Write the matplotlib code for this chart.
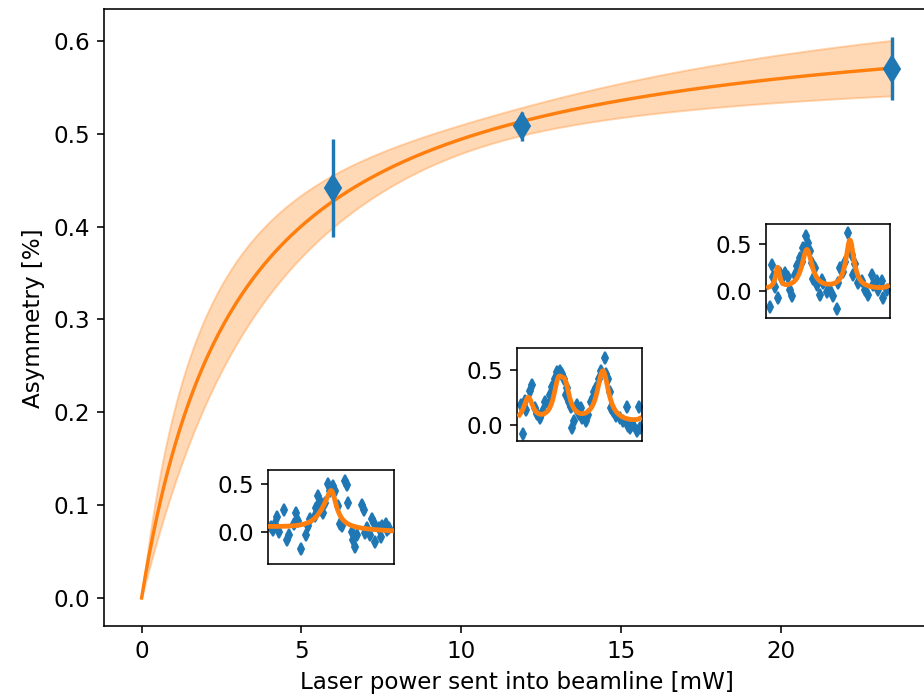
import matplotlib
matplotlib.use('Agg')
import matplotlib.pyplot as plt
import numpy as np

plt.rcParams['font.size'] = 11.5
plt.rcParams['lines.linewidth'] = 1.7

# ─── main measurement: asymmetry vs laser power ───
power = [6.0, 11.9, 23.5]            # mW
asym = [0.442, 0.508, 0.570]         # %
asym_err = [0.053, 0.016, 0.034]

# saturation fit  A = A_max * P / (P + P_sat), with correlated uncertainties
A_max, P_sat = 0.645, 3.05
sig_A, sig_P, rho = 0.065, 1.406, 0.957
fit_range = (0.0, 23.5)

# ─── inset spectra (detuning in arbitrary units, asymmetry in %) ───
ins1_x = [0.021, 0.040, 0.056, 0.075, 0.088, 0.129, 0.155, 0.169, 0.209, 0.223,
          0.236, 0.263, 0.303, 0.316, 0.330, 0.370, 0.383, 0.397, 0.410, 0.424,
          0.437, 0.450, 0.477, 0.491, 0.517, 0.531, 0.558, 0.571, 0.584, 0.611,
          0.625, 0.638, 0.665, 0.678, 0.692, 0.705, 0.745, 0.759, 0.772, 0.786,
          0.812, 0.826, 0.839, 0.853, 0.879, 0.893, 0.906, 0.933, 0.946, 0.960]
ins1_y = [0.05, 0.02, 0.08, 0.15, 0.00, 0.23, -0.08, -0.03, 0.08, 0.20,
          0.11, -0.18, -0.03, 0.06, 0.13, 0.16, 0.25, 0.37, 0.32, 0.23,
          0.20, 0.30, 0.50, 0.42, 0.47, 0.42, 0.27, 0.08, 0.06, 0.53,
          0.48, 0.30, 0.00, -0.08, -0.15, -0.03, 0.28, 0.23, -0.01, 0.04,
          -0.03, 0.13, 0.09, -0.10, 0.04, -0.05, 0.06, 0.08, 0.02, 0.04]

ins2_x = [0.035, 0.049, 0.062, 0.076, 0.103, 0.117, 0.144, 0.158, 0.185, 0.212,
          0.226, 0.253, 0.266, 0.280, 0.307, 0.321, 0.348, 0.361, 0.375, 0.389,
          0.402, 0.416, 0.429, 0.443, 0.457, 0.470, 0.484, 0.497, 0.511, 0.524,
          0.552, 0.565, 0.592, 0.606, 0.620, 0.633, 0.660, 0.674, 0.701, 0.709,
          0.728, 0.742, 0.755, 0.769, 0.796, 0.823, 0.851, 0.878, 0.891, 0.905,
          0.932, 0.959, 0.973, 0.981]
ins2_y = [0.18, -0.09, 0.22, 0.13, 0.31, 0.36, 0.15, 0.10, 0.06, 0.12,
          0.21, 0.18, 0.27, 0.34, 0.42, 0.48, 0.49, 0.46, 0.42, 0.27,
          0.33, 0.21, 0.16, -0.03, 0.03, 0.15, 0.18, 0.10, 0.15, 0.06,
          0.03, 0.09, 0.21, 0.24, 0.30, 0.33, 0.42, 0.49, 0.61, 0.46,
          0.42, 0.30, 0.15, 0.12, 0.075, 0.06, 0.03, 0.16, -0.015, -0.03,
          0.00, -0.06, 0.16, -0.03]

ins3_x = [0.032, 0.046, 0.059, 0.073, 0.099, 0.113, 0.126, 0.153, 0.180, 0.194,
          0.207, 0.234, 0.247, 0.274, 0.288, 0.301, 0.323, 0.341, 0.355, 0.368,
          0.382, 0.395, 0.409, 0.435, 0.449, 0.462, 0.489, 0.516, 0.543, 0.570,
          0.583, 0.597, 0.624, 0.637, 0.664, 0.677, 0.691, 0.704, 0.718, 0.745,
          0.772, 0.798, 0.825, 0.852, 0.866, 0.892, 0.906, 0.933, 0.946, 0.973]
ins3_y = [-0.17, 0.275, 0.15, 0.04, -0.08, 0.19, 0.13, 0.19, 0.15, 0.01,
          -0.06, 0.17, 0.26, 0.35, 0.31, 0.45, 0.58, 0.51, 0.42, 0.29,
          0.13, 0.24, 0.06, -0.05, 0.11, 0.08, -0.01, 0.01, -0.06, -0.19,
          0.08, 0.24, 0.20, 0.31, 0.61, 0.49, 0.38, 0.17, 0.28, 0.08,
          0.10, 0.01, -0.05, 0.17, 0.06, 0.10, 0.01, 0.10, -0.08, 0.01]
ins_err = 0.035

# line fits of the spectra: baseline (offset, slope) + Lorentzians (centre, amplitude, hwhm)
ins1_base = (0.05, -0.045)
ins1_peaks = [(0.505, 0.27, 0.045), (0.46, 0.16, 0.09)]
ins2_base = (0.01, 0.0)
ins2_peaks = [(0.09, 0.22, 0.045), (0.33, 0.30, 0.045), (0.385, 0.26, 0.045),
              (0.6875, 0.47, 0.055), (1.03, 0.10, 0.03)]
ins3_base = (0.01, 0.0)
ins3_peaks = [(0.094, 0.22, 0.02), (0.33, 0.42, 0.05), (0.677, 0.52, 0.04),
              (1.03, 0.10, 0.03)]

BLUE = '#1f77b4'
ORANGE = '#ff7f0e'


def saturation(p, a, ps):
    return a * p / (p + ps)


def saturation_sigma(p):
    g1 = p / (p + P_sat)
    g2 = -A_max * p / (p + P_sat) ** 2
    var = (g1 * sig_A) ** 2 + (g2 * sig_P) ** 2 + 2 * g1 * g2 * rho * sig_A * sig_P
    return np.sqrt(np.clip(var, 0, None))


def spectrum(x, base, peaks):
    y = base[0] + base[1] * x
    for c, amp, w in peaks:
        y = y + amp / (1 + ((x - c) / w) ** 2)
    return y


fig = plt.figure(figsize=(924 / 144, 698 / 144), dpi=144)
ax = fig.add_axes([0.1126, 0.1032, 0.8939, 0.8832])

p = np.linspace(fit_range[0], fit_range[1], 400)
f = saturation(p, A_max, P_sat)
s = saturation_sigma(p)
ax.fill_between(p, f - s, f + s, color=ORANGE, alpha=0.3)
ax.plot(p, f, color=ORANGE)
ax.errorbar(power, asym, yerr=asym_err, fmt='d', color=BLUE, ms=9)

ax.set_xlim(-1.175, 24.675)
ax.set_ylim(-0.0302, 0.634)
ax.set_xticks([0, 5, 10, 15, 20])
ax.set_yticks([0.0, 0.1, 0.2, 0.3, 0.4, 0.5, 0.6])
ax.set_xlabel('Laser power sent into beamline [mW]')
ax.set_ylabel('Asymmetry [%]')

insets = [
    ([0.290, 0.192, 0.1364, 0.1347], ins1_x, ins1_y, ins1_base, ins1_peaks, (-0.33, 0.64)),
    ([0.5595, 0.3682, 0.1353, 0.1332], ins2_x, ins2_y, ins2_base, ins2_peaks, (-0.15, 0.70)),
    ([0.829, 0.5444, 0.1342, 0.1347], ins3_x, ins3_y, ins3_base, ins3_peaks, (-0.29, 0.71)),
]
for rect, xs, ys, base, peaks, ylim in insets:
    iax = fig.add_axes(rect)
    iax.errorbar(xs, ys, yerr=ins_err, fmt='d', color=BLUE, ms=4, zorder=2)
    xx = np.linspace(0.02, 0.98, 300)
    iax.plot(xx, spectrum(xx, base, peaks), color=ORANGE, lw=2.4, zorder=4)
    iax.set_xlim(0, 1)
    iax.set_ylim(*ylim)
    iax.set_xticks([])
    iax.set_yticks([0.0, 0.5])

fig.savefig('out.png', dpi=144)
